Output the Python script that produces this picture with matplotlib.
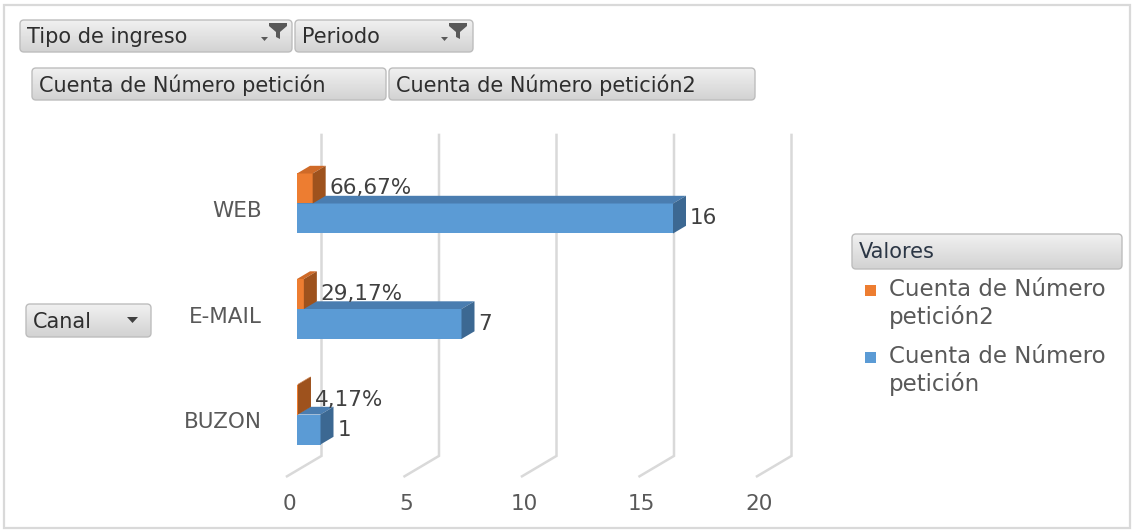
import matplotlib
matplotlib.use('Agg')
import matplotlib.pyplot as plt
from matplotlib.patches import Polygon, FancyBboxPatch, Rectangle
from matplotlib.colors import LinearSegmentedColormap
import numpy as np

# ---------------- data ----------------
categories = ['BUZON', 'E-MAIL', 'WEB']
count_values = [1, 7, 16]                   # Cuenta de Número petición
share_values = [0.0417, 0.2917, 0.6667]     # Cuenta de Número petición2
xticks = [0, 5, 10, 15, 20]
series_names = ['Cuenta de Número petición2', 'Cuenta de Número petición']
filter_fields = ['Tipo de ingreso', 'Periodo']
value_fields = ['Cuenta de Número petición', 'Cuenta de Número petición2']
row_field = 'Canal'
legend_title = 'Valores'

# ---------------- style ----------------
W, H = 1134, 531
FONT = 'DejaVu Sans'
plt.rcParams['font.family'] = [FONT]
BLUE = ('#5b9bd5', '#4a7db0', '#3c6892')      # front, top, side
ORANGE = ('#ed7d31', '#cf6a28', '#9e521d')
GRID = '#d9d9d9'
TXT = '#595959'
LBL = '#404040'

fig = plt.figure(figsize=(W / 100, H / 100), dpi=100)
fig.patch.set_facecolor('white')

# UI layer in pixel coordinates (layout only)
ui = fig.add_axes([0, 0, 1, 1])
ui.set_axis_off()

# chart layer in data coordinates
ax = fig.add_axes([0, 0, 1, 1])
ax.set_axis_off()
ax.patch.set_alpha(0)

sx, sy = 23.5, 105.5          # pixels per value unit / per category unit
x0_px, y0_px = 297, 414.5     # pixel position of value 0 / category baseline 0
ax.set_xlim(-x0_px / sx, (W - x0_px) / sx)
ax.set_ylim(-(H - y0_px) / sy, y0_px / sy)

# 3-D projection offsets (relative to bar front plane)
fdx, fdy = -10 / sx, -5.9 / sy     # floor front edge
bdx, bdy = 13 / sx, 7.7 / sy       # bar depth
wdx, wdy = 24.5 / sx, 14.5 / sy    # back wall
floor_y = -0.53
wall_top = 2.65
h = 30 / sy

# gridlines (floor + back wall)
for t in xticks:
    ax.plot([t + fdx, t + wdx, t + wdx],
            [floor_y + fdy, floor_y + wdy, wall_top],
            color=GRID, lw=1.8, solid_joinstyle='miter', zorder=1)
    ax.text(t + fdx + 2 / sx, floor_y + fdy - 28 / sy, str(t), ha='center',
            va='center', fontsize=15.5, color=TXT)


def bar3d(yb, y_top, v, colors):
    front, top, side = colors
    ax.barh((yb + y_top) / 2, v, height=y_top - yb, left=0, color=front,
            edgecolor='none', zorder=3)
    ax.add_patch(Polygon([(0, y_top), (v, y_top), (v + bdx, y_top + bdy),
                          (bdx, y_top + bdy)], closed=True, fc=top, ec='none', zorder=3))
    ax.add_patch(Polygon([(v, yb), (v, y_top), (v + bdx, y_top + bdy),
                          (v + bdx, yb + bdy)], closed=True, fc=side, ec='none', zorder=3))


for i, (cat, v, p) in enumerate(zip(categories, count_values, share_values)):
    bar3d(i - h, i, v, BLUE)
    bar3d(i, i + h, p, ORANGE)
    ax.text(v + bdx + 0.17, i - h / 2, str(v), ha='left', va='center',
            fontsize=15.5, color=LBL, zorder=5)
    ax.text(p + bdx + 0.15, i + h / 2, f'{p * 100:.2f}%'.replace('.', ','),
            ha='left', va='center', fontsize=15.5, color=LBL, zorder=5)
    ax.text(fdx - 25 / sx, i - 8 / sy, cat, ha='right', va='center',
            fontsize=15.5, color=TXT)

# ---------------- pivot buttons ----------------
gcmap = LinearSegmentedColormap.from_list('btn', ['#f1f1f1', '#d2d2d2'])


def button(x0, y0, x1, y1, label, fs=15, color='#2e2e2e'):
    patch = FancyBboxPatch((x0, y0), x1 - x0, y1 - y0,
                           boxstyle='round,pad=0,rounding_size=4',
                           fc='none', ec='none')
    ui.add_patch(patch)
    grad = np.linspace(0, 1, 64).reshape(-1, 1)
    im = ui.imshow(grad, extent=(x0, x1, y1, y0), origin='upper', cmap=gcmap,
                   aspect='auto', zorder=1, interpolation='bilinear')
    im.set_clip_path(patch)
    ui.add_patch(FancyBboxPatch((x0, y0), x1 - x0, y1 - y0,
                                boxstyle='round,pad=0,rounding_size=4',
                                fc='none', ec='#bdbdbd', lw=1.0, zorder=2))
    ui.text(x0 + 7, (y0 + y1) / 2 + 1, label, ha='left', va='center',
            fontsize=fs, color=color, zorder=3)


def funnel(xr, yt):
    # small drop arrow + funnel icon, xr = right edge of funnel
    ui.add_patch(Polygon([(xr - 26, yt + 14), (xr - 19, yt + 14), (xr - 22.5, yt + 18)],
                         closed=True, fc='#595959', ec='none', zorder=4))
    ui.add_patch(Polygon([(xr - 18, yt), (xr, yt), (xr, yt + 3), (xr - 7, yt + 9),
                          (xr - 7, yt + 16), (xr - 11, yt + 14), (xr - 11, yt + 9),
                          (xr - 18, yt + 3)], closed=True, fc='#595959', ec='none', zorder=4))


button(20, 20, 292, 52, filter_fields[0])
funnel(287, 23)
button(295, 20, 473, 52, filter_fields[1])
funnel(467, 23)
button(32, 68, 386, 100, value_fields[0])
button(389, 68, 755, 100, value_fields[1])
button(26, 304, 151, 337, row_field)
ui.add_patch(Polygon([(127, 317), (138, 317), (132.5, 323)], closed=True,
                     fc='#404040', ec='none', zorder=4))
button(852, 234, 1122, 269, legend_title, color='#2b3645')

# ---------------- legend ----------------
leg_items = [(series_names[0], ORANGE[0], 290), (series_names[1], BLUE[0], 357)]
for name, col, yc in leg_items:
    ui.add_patch(Rectangle((865, yc - 5), 11, 11, fc=col, ec='none', zorder=3))
    first, second = name.split(' petición')
    ui.text(889, yc - 12, first + '\npetición' + second, ha='left', va='top',
            fontsize=16.5, color=TXT, linespacing=1.22, zorder=3)

# outer frame
ui.add_patch(Rectangle((4, 5), W - 8, H - 8, fc='none', ec='#d9d9d9', lw=1.6, zorder=0))

ui.set_xlim(0, W)
ui.set_ylim(H, 0)

fig.savefig('out.png', dpi=100, facecolor='white')
